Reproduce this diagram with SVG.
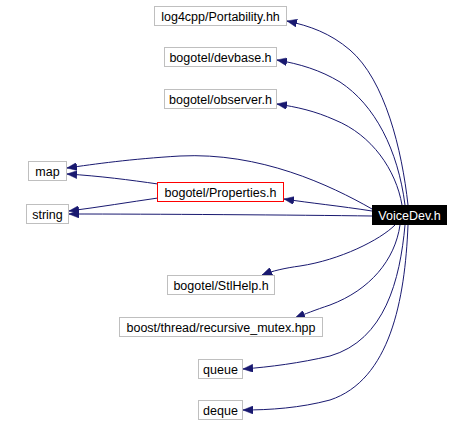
<svg xmlns="http://www.w3.org/2000/svg" width="473" height="425" viewBox="0 0 473 425">
<style>
.box{fill:#ffffff;stroke:#bfbfbf;stroke-width:1}
.red{fill:#ffffff;stroke:#ff0000;stroke-width:1}
.cur{fill:#000000;stroke:#000000}
text{font-family:"Liberation Sans",Arial,sans-serif;font-size:12.5px;text-anchor:middle;fill:#000000}
.w{fill:#ffffff}
.e{fill:none;stroke:#191970;stroke-width:1}
</style>
<defs>
<marker id="a" markerUnits="userSpaceOnUse" markerWidth="11" markerHeight="8" refX="10" refY="4" orient="auto">
<path d="M0,0 L10,4 L0,8 z" fill="#191970" stroke="#191970" stroke-width="0.5"/>
</marker>
</defs>
<g id="edges">
<path class="e" marker-end="url(#a)" d="M408,205 C402,150 385,80 350,50 C330,33 310,26 287,21"/>
<path class="e" marker-end="url(#a)" d="M405,205 C398,150 375,105 340,82 C320,70 300,64 277,60"/>
<path class="e" marker-end="url(#a)" d="M402,205 C396,170 372,135 335,120 C315,111 297,107 277,104"/>
<path class="e" marker-end="url(#a)" d="M372,209 C330,185 260,152 180,156 C130,159 95,164 67,168"/>
<path class="e" marker-end="url(#a)" d="M158,184 C130,180 100,176 67,174"/>
<path class="e" marker-end="url(#a)" d="M158,198 C130,202 100,207 69,211"/>
<path class="e" marker-end="url(#a)" d="M372,211 C340,206 310,203 284,199"/>
<path class="e" marker-end="url(#a)" d="M372,216 C300,215 150,214 69,214"/>
<path class="e" marker-end="url(#a)" d="M395,225 C380,240 340,260 300,266 C285,268 272,271 262,275"/>
<path class="e" marker-end="url(#a)" d="M400,225 C395,260 370,290 330,305 C315,310 305,314 295,318"/>
<path class="e" marker-end="url(#a)" d="M405,225 C400,280 385,340 330,356 C300,363 270,367 243,369"/>
<path class="e" marker-end="url(#a)" d="M408,225 C405,300 390,380 330,400 C300,408 270,410 243,410"/>
</g>
<g id="n_portability"><rect class="box" x="154.5" y="6.5" width="132" height="19"/><text x="220.5" y="20.5">log4cpp/Portability.hh</text></g>
<g id="n_devbase"><rect class="box" x="164.5" y="47.5" width="112" height="19"/><text x="220.5" y="61.5">bogotel/devbase.h</text></g>
<g id="n_observer"><rect class="box" x="164.5" y="89.5" width="112" height="19"/><text x="220.5" y="103.5">bogotel/observer.h</text></g>
<g id="n_map"><rect class="box" x="28.5" y="161.5" width="38" height="19"/><text x="47.5" y="175.5">map</text></g>
<g id="n_properties"><rect class="red" x="157.5" y="182.5" width="126" height="19"/><text x="220.5" y="196.5">bogotel/Properties.h</text></g>
<g id="n_string"><rect class="box" x="26.5" y="204.5" width="42" height="19"/><text x="47.5" y="218.5">string</text></g>
<g id="n_voicedev"><rect class="cur" x="372.5" y="205.5" width="74" height="19"/><text class="w" x="409.5" y="219.5">VoiceDev.h</text></g>
<g id="n_stlhelp"><rect class="box" x="167.5" y="275.5" width="107" height="19"/><text x="221" y="289.5">bogotel/StlHelp.h</text></g>
<g id="n_boost"><rect class="box" x="119.5" y="317.5" width="203" height="19"/><text x="221" y="331.5">boost/thread/recursive_mutex.hpp</text></g>
<g id="n_queue"><rect class="box" x="198.5" y="359.5" width="44" height="19"/><text x="220.5" y="373.5">queue</text></g>
<g id="n_deque"><rect class="box" x="198.5" y="400.5" width="44" height="19"/><text x="220.5" y="414.5">deque</text></g>
</svg>
